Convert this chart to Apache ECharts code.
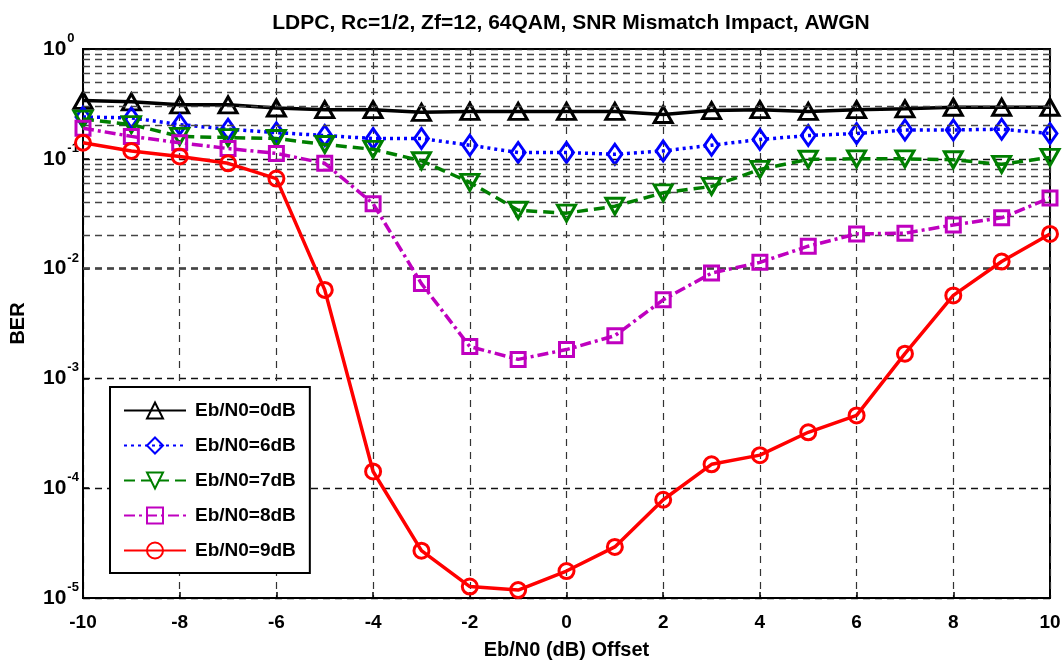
<!DOCTYPE html>
<html>
<head>
<meta charset="utf-8">
<script src="https://cdn.jsdelivr.net/npm/echarts@6/dist/echarts.min.js"></script>
<style>html,body{margin:0;padding:0;background:#fff}#c{width:1064px;height:665px}</style>
</head>
<body>
<div id="c"></div>
<script>
const offsets = [-10,-9,-8,-7,-6,-5,-4,-3,-2,-1,0,1,2,3,4,5,6,7,8,9,10];
const ber0 = [0.34,0.33,0.31,0.31,0.29,0.28,0.28,0.265,0.27,0.27,0.27,0.27,0.253,0.275,0.28,0.27,0.28,0.285,0.295,0.295,0.295];
const ber6 = [0.24,0.236,0.205,0.186,0.173,0.163,0.153,0.153,0.133,0.114,0.114,0.11,0.118,0.133,0.15,0.163,0.17,0.183,0.183,0.186,0.17];
const ber7 = [0.23,0.205,0.16,0.156,0.153,0.135,0.122,0.096,0.061,0.034,0.032,0.037,0.049,0.056,0.08,0.099,0.1,0.1,0.098,0.089,0.103];
const ber8 = [0.19,0.16,0.14,0.124,0.112,0.091,0.039,0.0073,0.00195,0.00149,0.00183,0.00245,0.0052,0.0091,0.0114,0.016,0.0207,0.021,0.025,0.029,0.044];
const ber9 = [0.14,0.118,0.105,0.091,0.066,0.0064,1.42e-4,2.7e-5,1.27e-5,1.18e-5,1.76e-5,2.92e-5,7.85e-5,1.65e-4,2.0e-4,3.23e-4,4.6e-4,1.68e-3,5.7e-3,0.0116,0.0207];
const seriesNames = ['Eb/N0=0dB','Eb/N0=6dB','Eb/N0=7dB','Eb/N0=8dB','Eb/N0=9dB'];
const titleText = 'LDPC, Rc=1/2, Zf=12, 64QAM, SNR Mismatch Impact, AWGN';
const xName = 'Eb/N0 (dB) Offset';
const yName = 'BER';
const minorGridValues = [];
for (let e = -5; e < 0; e++) { for (let m = 2; m <= 9; m++) minorGridValues.push(m * Math.pow(10, e)); }

const FONT = '"Liberation Sans", Arial, sans-serif';
const pairs = arr => offsets.map((x, i) => [x, arr[i]]);
const styles = [
  {c:'#000000', type:'solid', sym:'triangle', size:[18,16], rot:0, arr:ber0},
  {c:'#0000ff', type:[3,4], sym:'diamond', size:[14,20], rot:0, arr:ber6},
  {c:'#007f00', type:[11,6], sym:'triangle', size:[18,16], rot:180, arr:ber7},
  {c:'#bf00bf', type:[11,4,3,4], sym:'rect', size:[14,14], rot:0, arr:ber8},
  {c:'#ff0000', type:'solid', sym:'circle', size:[15,15], rot:0, arr:ber9}
];

const series = [{
  type:'line', name:'grid', data:[], silent:true, z:1,
  markLine:{silent:true, symbol:['none','none'], label:{show:false},
    lineStyle:{color:'#444', width:1.3, type:[7,5]},
    data: minorGridValues.map(v => ({yAxis:v}))}
}];
styles.forEach((s, i) => {
  series.push({
    type:'line', name:seriesNames[i], data:pairs(s.arr), z:3+i,
    symbol:s.sym, symbolSize:s.size, symbolRotate:s.rot, showAllSymbol:true,
    lineStyle:{color:s.c, width:3.5, type:s.type},
    itemStyle:{color:'rgba(255,255,255,0)', borderColor:s.c, borderWidth:3},
    emphasis:{disabled:true}
  });
});

const chart = echarts.init(document.getElementById('c'));
chart.setOption({
  animation:false,
  backgroundColor:'#fff',
  title:{text:titleText, left:566, textAlign:'center', top:8,
    textStyle:{fontFamily:FONT, fontSize:21, fontWeight:'bold', color:'#000'}},
  grid:{left:82, right:14, top:49, bottom:65, show:true, borderColor:'#000', borderWidth:2},
  legend:{orient:'vertical', left:110, top:387, data:seriesNames,
    padding:[13,14,12,13], itemGap:14, itemWidth:62, itemHeight:20,
    backgroundColor:'#fff', borderColor:'#000', borderWidth:2, borderRadius:0,
    textStyle:{fontFamily:FONT, fontSize:19, fontWeight:'bold', color:'#000', padding:[0,0,0,4], lineHeight:21}},
  xAxis:{type:'value', min:-10, max:10, interval:2,
    name:xName, nameLocation:'middle', nameGap:42,
    nameTextStyle:{fontFamily:FONT, fontSize:20, fontWeight:'bold', color:'#000'},
    axisLine:{onZero:false, lineStyle:{color:'#000', width:2}},
    axisTick:{inside:true, length:6, lineStyle:{color:'#000', width:1.5}},
    axisLabel:{margin:15, fontFamily:FONT, fontSize:19, fontWeight:'bold', color:'#000'},
    splitLine:{show:true, lineStyle:{color:'#333', width:1.2, type:[7,6]}}},
  yAxis:{type:'log', logBase:10, min:1e-5, max:1,
    name:yName, nameLocation:'middle', nameGap:55,
    nameTextStyle:{fontFamily:FONT, fontSize:20, fontWeight:'bold', color:'#000'},
    axisLine:{show:true, onZero:false, lineStyle:{color:'#000', width:2}},
    axisTick:{show:true, inside:true, length:6, lineStyle:{color:'#000', width:1.5}},
    axisLabel:{align:'left', margin:40, color:'#000',
      formatter: v => '{b|10}{s|' + Math.round(Math.log10(v)) + '}',
      rich:{b:{fontFamily:FONT, fontSize:21, fontWeight:'bold', color:'#000', verticalAlign:'middle', lineHeight:20},
            s:{fontFamily:FONT, fontSize:13, fontWeight:'bold', color:'#000', verticalAlign:'top', lineHeight:34, padding:[0,0,0,1]}}},
    splitLine:{show:true, lineStyle:{color:'#111', width:1.3, type:[7,5]}}},
  series: series
});
</script>
</body>
</html>
